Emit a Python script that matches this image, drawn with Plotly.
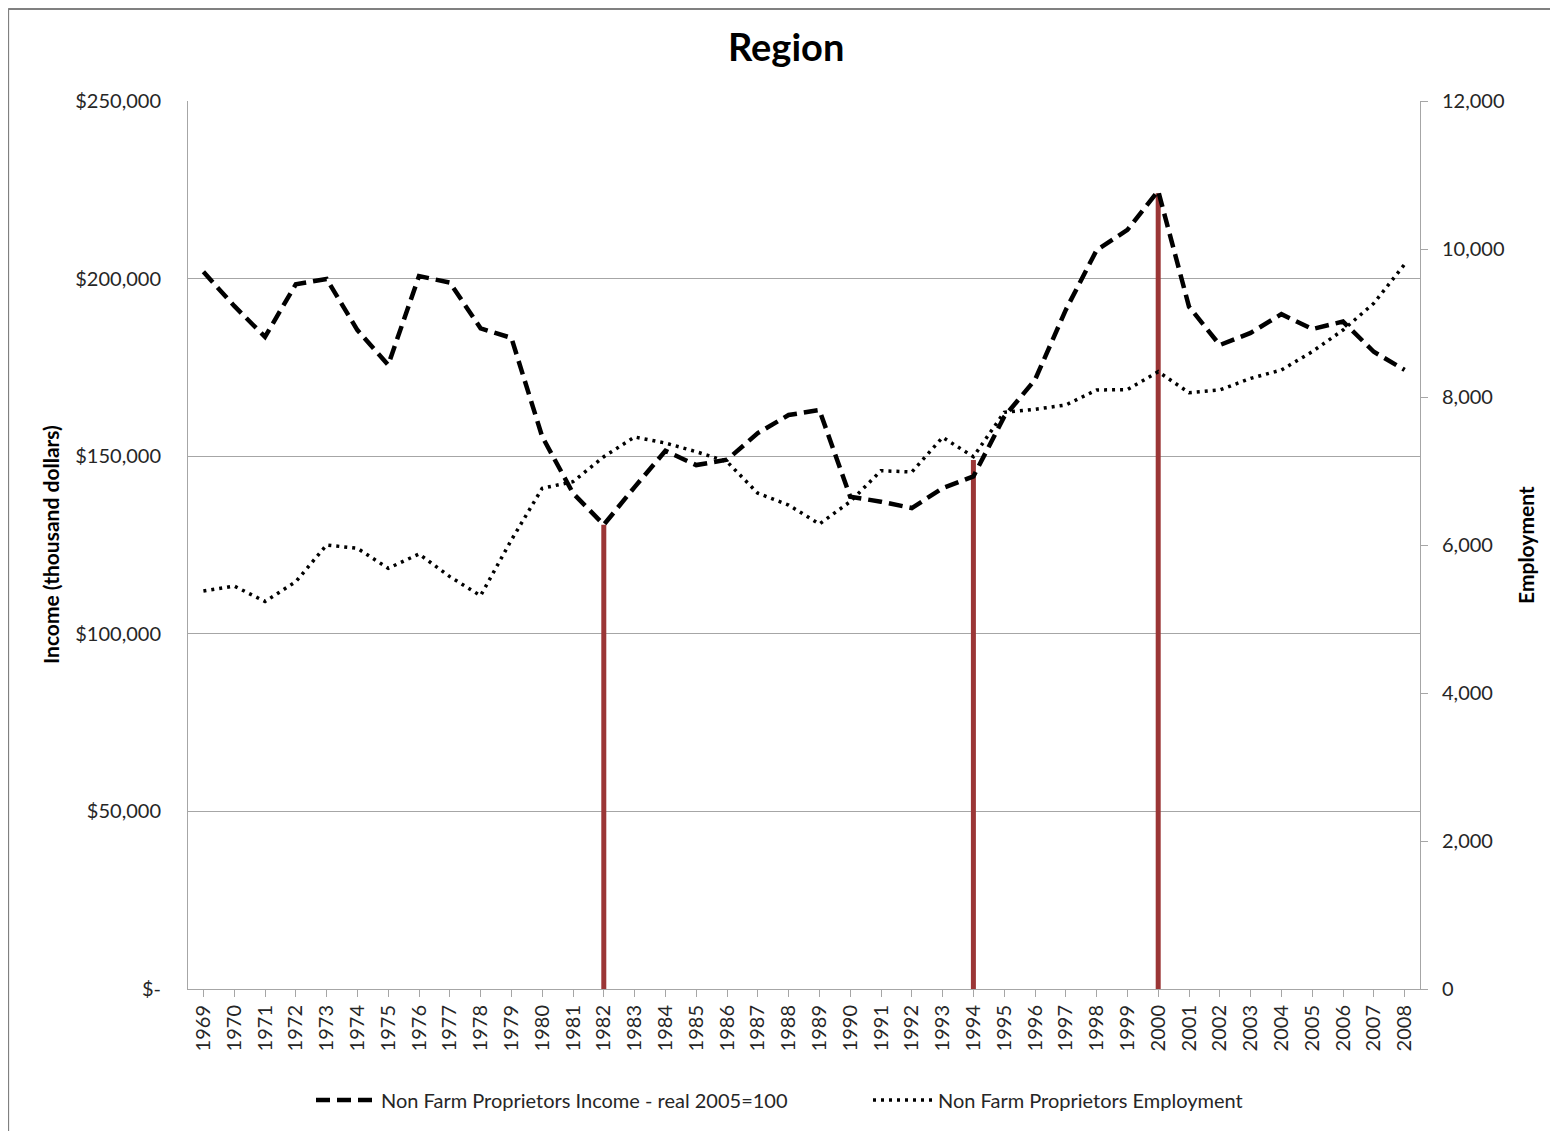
import plotly.graph_objects as go

years = [str(y) for y in range(1969, 2009)]

income = [201900, 192300, 183600, 198400, 199900, 185500, 175700, 200700, 198900, 186000,
          183300, 155500, 139600, 130700, 141300, 151500, 147500, 149000, 156500, 161600,
          163000, 138600, 137200, 135400, 141000, 144300, 161100, 171500, 191200, 208000,
          213700, 224700, 192100, 181300, 184700, 190000, 185800, 187900, 179400, 174300]

employment = [5378, 5446, 5236, 5504, 6000, 5955, 5685, 5878, 5572, 5315,
              6068, 6766, 6856, 7193, 7460, 7378, 7261, 7126, 6700, 6540,
              6284, 6586, 7004, 6986, 7455, 7193, 7793, 7834, 7892, 8095,
              8100, 8342, 8059, 8095, 8252, 8365, 8612, 8905, 9266, 9793]

marker_years = ["1982", "1994", "2000"]
marker_heights = [130700, 148900, 224000]

left_ticks = [0, 50000, 100000, 150000, 200000, 250000]
left_text = ["$-", "$50,000", "$100,000", "$150,000", "$200,000", "$250,000"]
right_ticks = [0, 2000, 4000, 6000, 8000, 10000, 12000]
right_text = ["0", "2,000", "4,000", "6,000", "8,000", "10,000", "12,000"]

FONT = "Lato, 'Open Sans', sans-serif"
RED = "#9b3636"
GRID = "#a6a6a6"
TXT = "#262626"

fig = go.Figure()

for yr, h in zip(marker_years, marker_heights):
    fig.add_trace(go.Scatter(x=[yr, yr], y=[0, h], mode="lines",
                             line=dict(color=RED, width=5), showlegend=False,
                             hoverinfo="skip"))

fig.add_trace(go.Scatter(x=years, y=income, mode="lines",
                         name="Non Farm Proprietors Income - real 2005=100",
                         line=dict(color="black", width=4.5, dash="14px,7px")))
fig.add_trace(go.Scatter(x=years, y=employment, mode="lines", yaxis="y2",
                         name="Non Farm Proprietors Employment",
                         line=dict(color="black", width=3.5, dash="3px,5px")))

fig.update_layout(
    width=1550, height=1123,
    paper_bgcolor="white", plot_bgcolor="white",
    margin=dict(l=180, r=138, t=93, b=142, autoexpand=False),
    font=dict(family=FONT, size=20, color=TXT),
    title=dict(text="<b>Region</b>", x=0.502, xanchor="center", y=0.965, yanchor="middle",
               font=dict(size=38, color="black", family=FONT)),
    xaxis=dict(type="category", categoryorder="array", categoryarray=years,
               range=[-0.5, 39.5], showgrid=False, showline=True, linecolor=GRID, linewidth=1,
               ticks="outside", ticklen=7, tickcolor=GRID, tickangle=-90,
               tickfont=dict(size=20, color=TXT)),
    yaxis=dict(range=[0, 250000], tickvals=left_ticks, ticktext=left_text,
               showgrid=True, gridcolor=GRID, gridwidth=1, showline=True, linecolor=GRID,
               zeroline=False, ticks="", ticklabelstandoff=22,
               tickfont=dict(size=20, color=TXT)),
    yaxis2=dict(range=[0, 12000], tickvals=right_ticks, ticktext=right_text,
                overlaying="y", side="right", showgrid=False, showline=True, linecolor=GRID,
                zeroline=False, ticks="outside", ticklen=7, tickcolor=GRID,
                ticklabelstandoff=10, tickfont=dict(size=20, color=TXT)),
    legend=dict(orientation="h", x=(311 - 188) / 1232, xanchor="left", y=-0.125, yanchor="middle",
                font=dict(size=20, color=TXT), itemwidth=60, entrywidth=482,
                entrywidthmode="pixels", bgcolor="rgba(0,0,0,0)"),
    annotations=[
        dict(text="<b>Income (thousand dollars)</b>", xref="paper", yref="paper",
             x=-0.112, y=0.5, xanchor="center", yanchor="middle", textangle=-90, showarrow=False,
             font=dict(size=21, color="black", family=FONT)),
        dict(text="<b>Employment</b>", xref="paper", yref="paper",
             x=1.0852, y=0.5, xanchor="center", yanchor="middle", textangle=-90, showarrow=False,
             font=dict(size=21, color="black", family=FONT)),
    ],
    shapes=[
        dict(type="line", xref="paper", yref="paper", x0=-0.146, x1=-0.146,
             y0=1.1036, y1=-0.2, line=dict(color="#808080", width=2)),
        dict(type="line", xref="paper", yref="paper", x0=-0.146, x1=1.12,
             y0=1.1036, y1=1.1036, line=dict(color="#808080", width=2)),
    ],
)

fig.write_html("out.html")
